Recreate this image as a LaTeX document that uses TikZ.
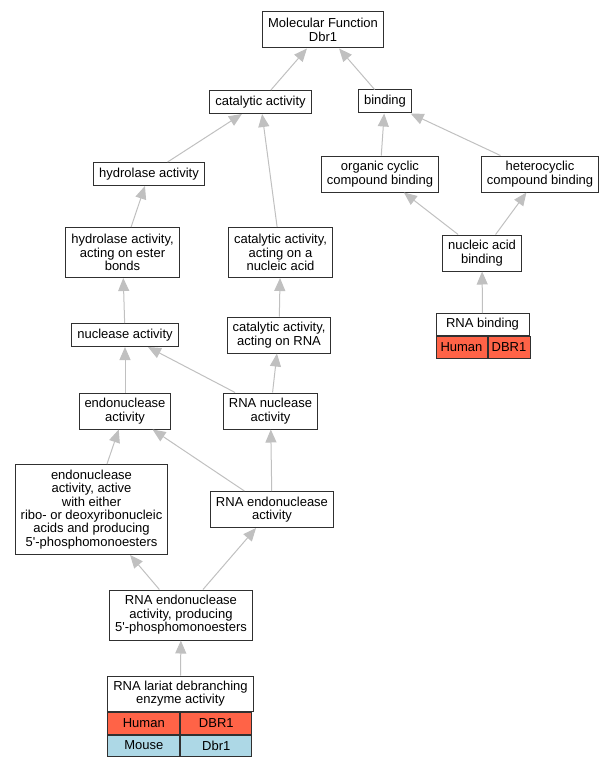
\documentclass[tikz,border=0pt]{standalone}
\usepackage{fontspec}
\newfontfamily\gofont{Liberation Sans}
\usetikzlibrary{arrows.meta,positioning}
\definecolor{human}{HTML}{FF6347}
\definecolor{mouse}{HTML}{ADD8E6}
\definecolor{isagray}{HTML}{C0C0C0}
\definecolor{boxline}{HTML}{303030}

\begin{document}
\begin{tikzpicture}[x=1pt,y=-1pt]
	\tikzstyle{term}=[rectangle, draw=boxline, line width=1pt, fill=white, align=center, inner xsep=5.5pt, inner ysep=3pt, minimum height=23pt, font=\gofont\fontsize{13}{13.4}\selectfont]
	\tikzstyle{two}=[minimum height=36pt]
	\tikzstyle{three}=[minimum height=50pt]
	\tikzstyle{cell}=[term, inner xsep=2pt, minimum height=22pt, anchor=north west]
	\tikzstyle{isa}=[draw=isagray, line width=1pt, -{Triangle[length=13pt, width=11pt, fill=isagray]}]
	\useasboundingbox (0,0) rectangle (613,765);
	\node[term, two] (mf) at (323,30) {Molecular Function\\Dbr1};
	\node[term] (cat) at (260.5,102) {catalytic activity};
	\node[term] (bind) at (385,101.5) {binding};
	\node[term] (hyd) at (149,174) {hydrolase activity};
	\node[term, two] (org) at (380,174) {organic cyclic\\compound binding};
	\node[term, two] (het) at (540,174) {heterocyclic\\compound binding};
	\node[term, three] (hydest) at (122.5,252.5) {hydrolase activity,\\acting on ester\\bonds};
	\node[term, three] (catnuc) at (280.5,252.5) {catalytic activity,\\acting on a\\nucleic acid};
	\node[term, two] (nucbind) at (482,253) {nucleic acid\\binding};
	\node[term] (nuc) at (125,335) {nuclease activity};
	\node[term, two] (catrna) at (279,335) {catalytic activity,\\acting on RNA};
	\node[term, minimum width=93pt, minimum height=22pt] (rnabind) at (482.5,324.5) {RNA binding};
	\node[cell, fill=human, minimum width=51pt, minimum height=21.5pt] (rbhs) at (rnabind.south west) {Human};
	\node[cell, fill=human, minimum width=42pt, minimum height=21.5pt] (rbhg) at (rbhs.north east) {DBR1};
	\node[term, two] (endo) at (125,411) {endonuclease\\activity};
	\node[term, two] (rnanuc) at (270.5,411) {RNA nuclease\\activity};
	\node[term, minimum height=90pt] (endoribo) at (91.5,509.5) {endonuclease\\activity, active\\with either\\ribo- or deoxyribonucleic\\acids and producing\\5'-phosphomonoesters};
	\node[term, two] (rnaendo) at (272,509.5) {RNA endonuclease\\activity};
	\node[term, three] (rnaendoprod) at (181,615) {RNA endonuclease\\activity, producing\\5'-phosphomonoesters};
	\node[term, minimum width=143pt, minimum height=35pt] (lariat) at (180.5,693.5) {RNA lariat debranching\\enzyme activity};
	\node[cell, fill=human, minimum width=72pt] (lhs) at (lariat.south west) {Human};
	\node[cell, fill=human, minimum width=71pt] (lhg) at (lhs.north east) {DBR1};
	\node[cell, fill=mouse, minimum width=72pt, minimum height=21pt] (lms) at (lhs.south west) {Mouse};
	\node[cell, fill=mouse, minimum width=71pt, minimum height=21pt] (lmg) at (lms.north east) {Dbr1};
	\draw[isa] (cat) -- (mf);
	\draw[isa] (bind) -- (mf);
	\draw[isa] (hyd) -- (cat);
	\draw[isa] (catnuc) -- (cat);
	\draw[isa] (org) -- (bind);
	\draw[isa] (het) -- (bind);
	\draw[isa] (hydest) -- (hyd);
	\draw[isa] (nucbind) -- (org);
	\draw[isa] (nucbind) -- (het);
	\draw[isa] (nuc) -- (hydest);
	\draw[isa] (catrna) -- (catnuc);
	\draw[isa] (rnabind) -- (nucbind);
	\draw[isa] (endo) -- (nuc);
	\draw[isa] (rnanuc) -- (nuc);
	\draw[isa] (rnanuc) -- (catrna);
	\draw[isa] (endoribo) -- (endo);
	\draw[isa] (rnaendo) -- (endo);
	\draw[isa] (rnaendo) -- (rnanuc);
	\draw[isa] (rnaendoprod) -- (endoribo);
	\draw[isa] (rnaendoprod) -- (rnaendo);
	\draw[isa] (lariat) -- (rnaendoprod);
\end{tikzpicture}
\end{document}
